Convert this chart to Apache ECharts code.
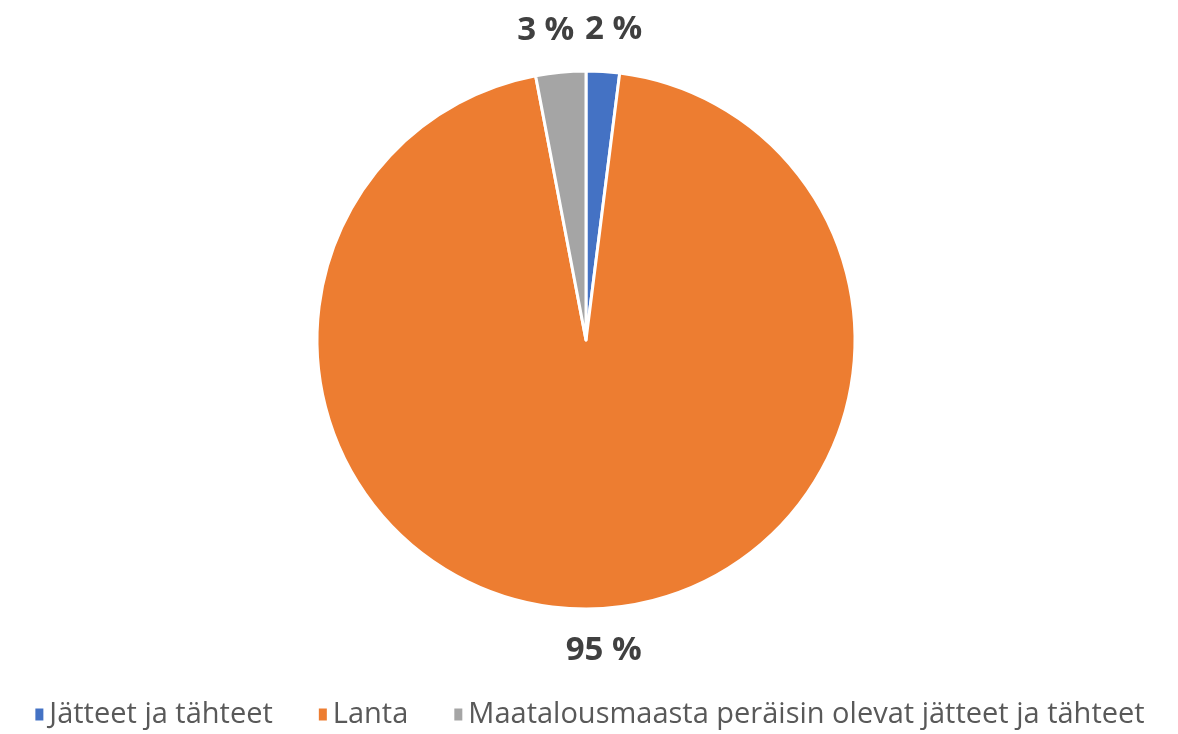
<!DOCTYPE html>
<html>
<head>
<meta charset="utf-8">
<script src="https://cdn.jsdelivr.net/npm/echarts@6/dist/echarts.min.js"></script>
<style>
  html, body { margin: 0; padding: 0; background: #fff; }
  #chart { width: 1178px; height: 734px; }
</style>
</head>
<body>
<div id="chart"></div>
<script>
const categories = ['Jätteet ja tähteet', 'Lanta', 'Maatalousmaasta peräisin olevat jätteet ja tähteet'];
const values = [2, 95, 3];
const colors = ['#4472C4', '#ED7D31', '#A5A5A5'];

const chart = echarts.init(document.getElementById('chart'));
chart.setOption({
  animation: false,
  color: colors,
  legend: {
    bottom: 0,
    left: 'center',
    itemWidth: 10,
    itemHeight: 14,
    itemGap: 44,
    icon: 'rect',
    textStyle: { fontFamily: 'Open Sans', fontSize: 29, color: '#595959' },
    data: categories
  },
  series: [{
    type: 'pie',
    center: [586, 340],
    radius: 269,
    startAngle: 90,
    clockwise: true,
    itemStyle: { borderColor: '#fff', borderWidth: 3 },
    label: {
      position: 'outside',
      formatter: '{c} %',
      fontFamily: 'Open Sans',
      fontWeight: 'bold',
      fontSize: 33,
      color: '#404040'
    },
    labelLine: { show: false, length: 42, length2: 0 },
    labelLayout: p => ({ align: 'center', dx: p.align === 'right' ? -6 : 3 }),
    data: categories.map((n, i) => ({ name: n, value: values[i] }))
  }]
});
</script>
</body>
</html>
